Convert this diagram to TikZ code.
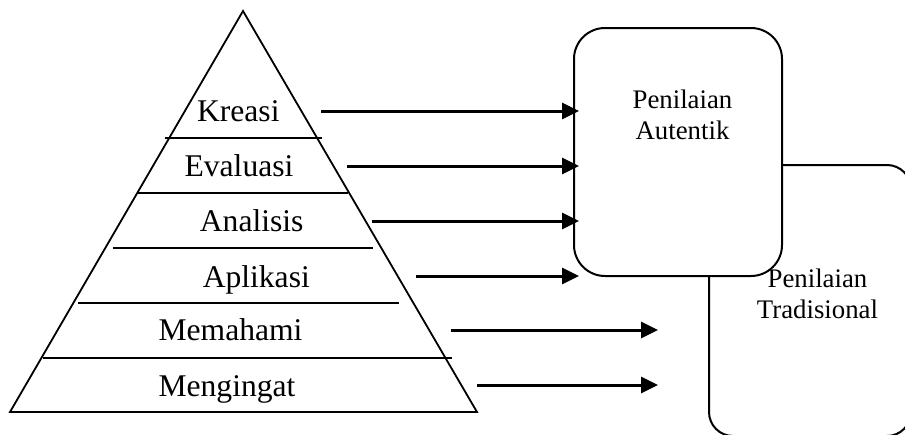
\documentclass[tikz,border=0pt]{standalone}
\usepackage{fontspec}
\setmainfont{Liberation Serif}
\usetikzlibrary{arrows.meta, positioning}

\begin{document}
\begin{tikzpicture}[x=0.5pt, y=-0.5pt, >={Triangle[length=8.5pt, width=8pt]},
    level/.style={font=\fontsize{15.8}{18}\selectfont, anchor=base, inner sep=0pt},
    tag/.style={font=\fontsize{13.4}{15.75}\selectfont, align=center, inner sep=0pt},
    box/.style={draw, line width=1pt, fill=white, rectangle},
    arr/.style={->, line width=1.5pt}]
    \useasboundingbox (0,0) rectangle (905,434);
    \clip (0,0) rectangle (905,434);

    % pyramid
    \coordinate (apex) at (243,11);
    \coordinate (bl) at (10,412);
    \coordinate (br) at (477,412);
    \draw [line width=0.9pt] (bl) -- (apex) -- (br) -- cycle;
    \draw [line width=0.9pt] (165,138) -- (322,138);
    \draw [line width=0.9pt] (138,193) -- (348,193);
    \draw [line width=0.9pt] (113,248) -- (373,248);
    \draw [line width=0.9pt] (78,303) -- (399,303);
    \draw [line width=0.9pt] (43,358) -- (452,358);

    \node [level] (kreasi) at (238.3,121.7) {Kreasi};
    \node [level] (evaluasi) at (239,176.7) {Evaluasi};
    \node [level] (analisis) at (251.7,231.7) {Analisis};
    \node [level] (aplikasi) at (256.3,287.3) {Aplikasi};
    \node [level] (memahami) at (230.5,340.7) {Memahami};
    \node [level] (mengingat) at (227,396.7) {Mengingat};

    % assessment boxes
    \node [box, rounded corners=12pt, minimum width=101pt, minimum height=135.5pt] (trad) at (810,300.5) {};
    \node [box, rounded corners=15.5pt, minimum width=104pt, minimum height=124pt] (aut) at (678,152) {};
    \node [tag] (autlbl) at (682.5,115) {Penilaian\\Autentik};
    \node [tag] (tradlbl) at (817.5,294) {Penilaian\\Tradisional};

    % arrows
    \coordinate (k0) at (321,111);
    \coordinate (e0) at (347,166);
    \coordinate (a0) at (372,221);
    \coordinate (p0) at (416,276);
    \coordinate (m0) at (451,330);
    \coordinate (g0) at (477,385);
    \coordinate (m1) at (658,330);
    \coordinate (g1) at (658,385);

    \draw [arr, shorten >=-3pt] (k0) -- (aut.west |- k0);
    \draw [arr, shorten >=-3pt] (e0) -- (aut.west |- e0);
    \draw [arr, shorten >=-3pt] (a0) -- (aut.west |- a0);
    \draw [arr, shorten >=-3pt] (p0) -- (aut.west |- p0);
    \draw [arr] (m0) -- (m1);
    \draw [arr] (g0) -- (g1);
\end{tikzpicture}
\end{document}
